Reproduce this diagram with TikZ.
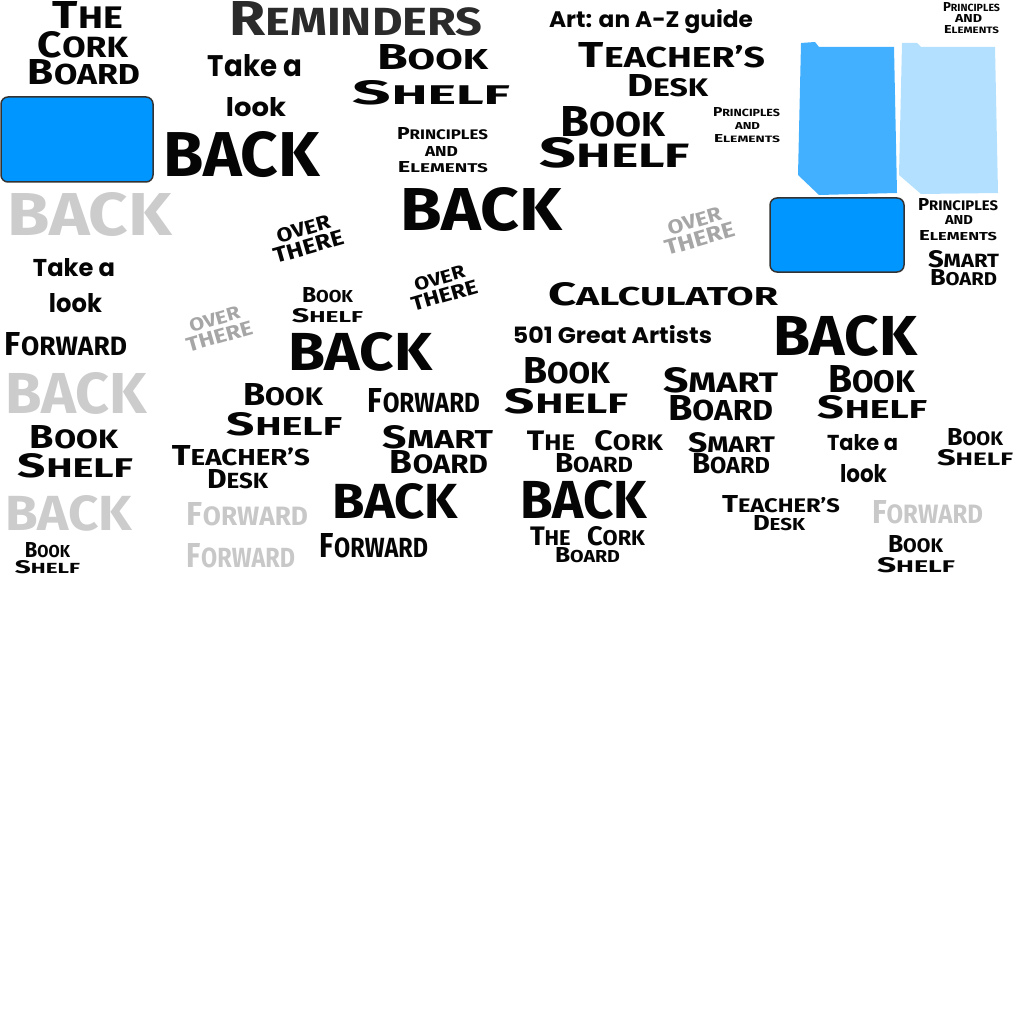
\documentclass[tikz,border=0pt]{standalone}
\usepackage{fontspec}
\usepackage{graphicx}
\setmainfont{Fira Sans}
\newfontfamily\roundf{Poppins}
\definecolor{ink}{HTML}{050505}
\definecolor{darkink}{HTML}{2B2B2B}
\definecolor{lightgray}{HTML}{CCCCCC}
\definecolor{midgray}{HTML}{A6A6A6}
\definecolor{fwdgray}{HTML}{C8C8C8}
\definecolor{boardblue}{HTML}{0096FF}
\definecolor{folderblue}{HTML}{42B0FF}
\definecolor{folderlight}{HTML}{B3E0FF}
\definecolor{rim}{HTML}{333333}
\newcommand\fitt[3]{\resizebox{#1pt}{#2pt}{#3}}
\newcommand\capw[2]{#1\scalebox{0.8}{#2}}
\newcommand\lab[6]{\node[lbl,#1] (#2) at (#3) {\fitt{#4}{#5}{#6}};}
\tikzset{
  lbl/.style={inner sep=0pt, anchor=base, text=ink, font=\bfseries},
  grey/.style={text=lightgray},
  fwd/.style={text=fwdgray},
  dark/.style={text=darkink},
  rnd/.style={font=\roundf\bfseries},
  tilt/.style={lbl, anchor=center, rotate=16, align=center},
  board/.style={fill=boardblue, draw=rim, line width=1.5pt, rounded corners=7pt},
}
\begin{document}
\begin{tikzpicture}[x=1pt,y=-1pt]
\useasboundingbox (0,0) rectangle (1024,1024);
% shapes
\draw[board] (1,97) rectangle (153,182);
\draw[board] (770,198) rectangle (904,272);
\fill[folderblue] (798,175) -- (801,43) -- (815,42) -- (819,47) -- (894,47) -- (897,193) -- (819,195) -- cycle;
\fill[folderlight] (899,175) -- (902,43) -- (917,43) -- (921,47) -- (995,47) -- (998,193) -- (921,194) -- cycle;
% left column
\lab{}{n1}{88,29}{70}{27}{\capw{T}{HE}}
\lab{}{n2}{83,58}{90}{26}{\capw{C}{ORK}}
\lab{}{n3}{84,85}{112}{25}{\capw{B}{OARD}}
\lab{grey}{n8}{89.5,235}{165}{43}{BACK}
\lab{rnd}{n9}{74,276}{82}{18}{Take a}
\lab{rnd}{n10}{75.5,312}{53}{19}{look}
\lab{}{n11}{66,355}{122}{23}{\capw{F}{ORWARD}}
\lab{grey}{n12}{76,413}{142}{41}{BACK}
\lab{}{n13}{74,448}{88}{23}{\capw{B}{OOK}}
\lab{}{n14}{75.5,477}{115}{24}{\capw{S}{HELF}}
\lab{grey}{n15}{68.5,530}{127}{35}{BACK}
\lab{}{n16}{47.5,557}{45}{15}{\capw{B}{OOK}}
\lab{}{n17}{47.5,573}{65}{13}{\capw{S}{HELF}}
% top middle
\lab{dark}{n4}{356,36}{253}{34}{\capw{R}{EMINDERS}}
\lab{rnd}{n5}{255,77}{94}{22}{Take a}
\lab{rnd}{n6}{256,117}{60}{19}{look}
\lab{}{n7}{241.5,177}{157}{45}{BACK}
\lab{}{n18}{432.5,70}{111}{25}{\capw{B}{OOK}}
\lab{}{n19}{431.5,105}{157}{24}{\capw{S}{HELF}}
\lab{}{n20}{442.5,140}{91}{12}{\capw{P}{RINCIPLES}}
\lab{}{n21}{441.5,157}{33}{10}{AND}
\lab{}{n22}{443,173}{90}{11}{\capw{E}{LEMENTS}}
\lab{}{n23}{481,230}{162}{43}{BACK}
\lab{rnd}{n24}{651,28}{204}{18}{Art: an A-Z guide}
\lab{}{n25}{672,68}{186}{25}{\capw{T}{EACHER'S}}
\lab{}{n26}{667.5,97}{81}{22}{\capw{D}{ESK}}
\lab{}{n27}{612.5,137}{105}{30}{\capw{B}{OOK}}
\lab{}{n28}{615,168}{150}{30}{\capw{S}{HELF}}
\lab{}{n29}{746.5,117}{67}{9}{\capw{P}{RINCIPLES}}
\lab{}{n30}{747.5,130}{25}{7}{AND}
\lab{}{n31}{747,143}{66}{8}{\capw{E}{LEMENTS}}
% top right
\lab{}{n32}{971.5,12}{57}{9}{\capw{P}{RINCIPLES}}
\lab{}{n33}{968.5,23}{27}{8}{AND}
\lab{}{n34}{971.5,34}{55}{8}{\capw{E}{LEMENTS}}
\lab{}{n35}{958,211}{80}{12}{\capw{P}{RINCIPLES}}
\lab{}{n36}{959,225}{28}{9}{AND}
\lab{}{n37}{958,240}{78}{10}{\capw{E}{LEMENTS}}
\lab{}{n38}{963.5,267}{71}{17}{\capw{S}{MART}}
\lab{}{n39}{963.5,285}{67}{16}{\capw{B}{OARD}}
% tilted
\node[tilt] (o1) at (306,238) {\fitt{55}{14}{OVER}\\[3pt]\fitt{72}{15}{THERE}};
\node[tilt, text=midgray] (o2) at (697,230) {\fitt{55}{14}{OVER}\\[3pt]\fitt{72}{15}{THERE}};
\node[tilt] (o3) at (442,287) {\fitt{52}{13}{OVER}\\[3pt]\fitt{68}{14}{THERE}};
\node[tilt, text=midgray] (o4) at (217,328) {\fitt{52}{13}{OVER}\\[3pt]\fitt{68}{14}{THERE}};
% middle rows
\lab{}{n65}{327.5,302}{51}{15}{\capw{B}{OOK}}
\lab{}{n66}{327.5,322}{71}{14}{\capw{S}{HELF}}
\lab{}{n67}{360,370}{144}{38}{BACK}
\lab{}{n68}{283,405}{80}{22}{\capw{B}{OOK}}
\lab{}{n69}{284.5,435}{115}{23}{\capw{S}{HELF}}
\lab{}{n70}{424,412}{112}{24}{\capw{F}{ORWARD}}
\lab{}{n71}{241,465}{138}{20}{\capw{T}{EACHER'S}}
\lab{}{n72}{237.5,488}{61}{19}{\capw{D}{ESK}}
\lab{}{n73}{438,448}{110}{23}{\capw{S}{MART}}
\lab{}{n74}{439,473}{98}{23}{\capw{B}{OARD}}
\lab{fwd}{n75}{247.5,525}{121}{23}{\capw{F}{ORWARD}}
\lab{fwd}{n76}{241,567}{108}{24}{\capw{F}{ORWARD}}
\lab{}{n77}{395,518}{126}{35}{BACK}
\lab{}{n78}{374,557}{108}{24}{\capw{F}{ORWARD}}
% right middle
\lab{}{n40}{663,305}{230}{23}{\capw{C}{ALCULATOR}}
\lab{rnd}{n41}{612.5,343}{199}{18}{501 Great Artists}
\lab{}{n42}{845,355}{144}{40}{BACK}
\lab{}{n43}{566.5,383}{87}{26}{\capw{B}{OOK}}
\lab{}{n44}{566.5,413}{123}{25}{\capw{S}{HELF}}
\lab{}{n45}{720.5,392}{115}{25}{\capw{S}{MART}}
\lab{}{n46}{720.5,420}{105}{25}{\capw{B}{OARD}}
\lab{}{n47}{871.5,392}{87}{27}{\capw{B}{OOK}}
\lab{}{n48}{872.5,418}{109}{23}{\capw{S}{HELF}}
\lab{}{n49}{595,450}{136}{20}{\capw{T}{HE}\hspace{0.6em}\capw{C}{ORK}}
\lab{}{n50}{594,472}{78}{19}{\capw{B}{OARD}}
\lab{}{n51}{731.5,452}{87}{20}{\capw{S}{MART}}
\lab{}{n52}{731,473}{78}{20}{\capw{B}{OARD}}
\lab{rnd}{n53}{862.5,450}{71}{16}{Take a}
\lab{rnd}{n54}{863.5,482}{47}{18}{look}
\lab{}{n55}{975,445}{56}{17}{\capw{B}{OOK}}
\lab{}{n56}{975,465}{76}{16}{\capw{S}{HELF}}
\lab{}{n57}{583.5,518}{127}{38}{BACK}
\lab{}{n58}{587.5,545}{115}{19}{\capw{T}{HE}\hspace{0.6em}\capw{C}{ORK}}
\lab{}{n59}{587.5,562}{65}{15}{\capw{B}{OARD}}
\lab{}{n60}{781,512}{118}{17}{\capw{T}{EACHER'S}}
\lab{}{n61}{779,530}{52}{15}{\capw{D}{ESK}}
\lab{fwd}{n62}{927.5,523}{111}{23}{\capw{F}{ORWARD}}
\lab{}{n63}{915.5,552}{55}{17}{\capw{B}{OOK}}
\lab{}{n64}{916,572}{78}{15}{\capw{S}{HELF}}
\end{tikzpicture}
\end{document}
